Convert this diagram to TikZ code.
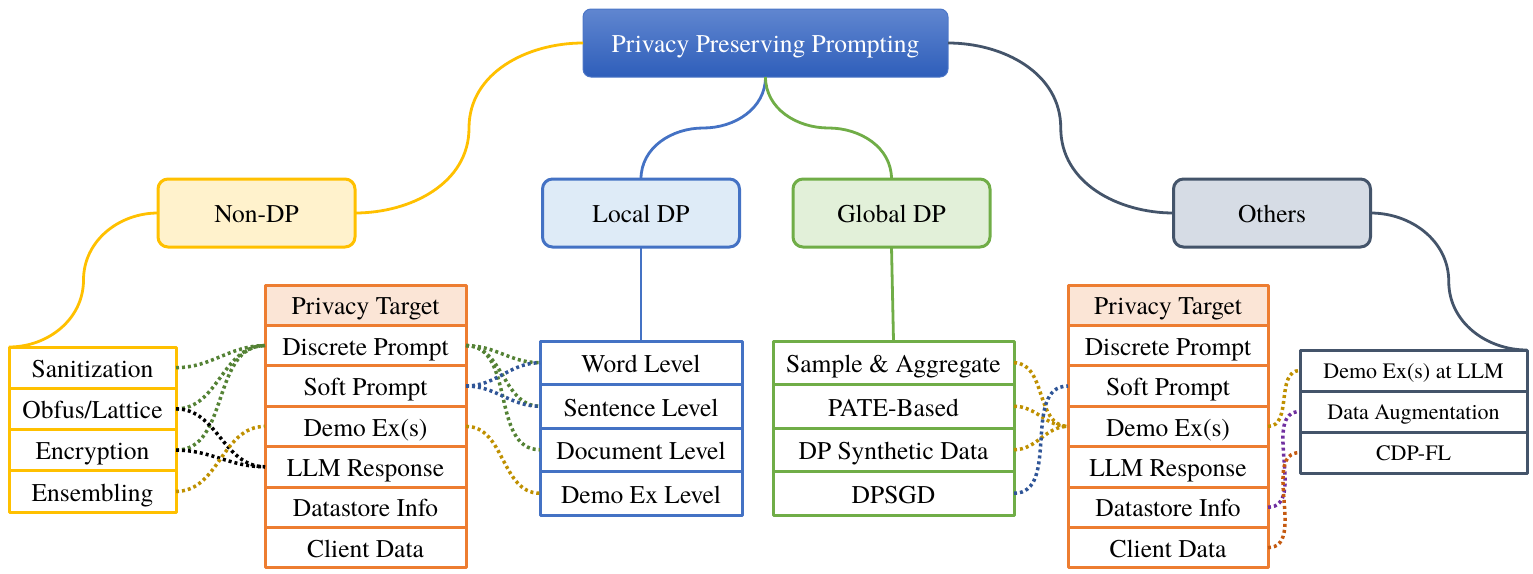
\documentclass[tikz,border=0pt]{standalone}
\usepackage{fontspec}
\setmainfont{texgyretermes-regular.otf}
\newfontfamily\ppserif{texgyretermes-regular.otf}
\usepackage{tikz}
\usetikzlibrary{positioning,calc}
\definecolor{ppRootTop}{RGB}{96,134,208}
\definecolor{ppRootBot}{RGB}{46,94,186}
\definecolor{ppYellow}{RGB}{255,192,0}
\definecolor{ppYellowL}{RGB}{255,242,204}
\definecolor{ppBlue}{RGB}{68,114,196}
\definecolor{ppBlueL}{RGB}{222,235,247}
\definecolor{ppGreen}{RGB}{112,173,71}
\definecolor{ppGreenL}{RGB}{226,240,217}
\definecolor{ppSlate}{RGB}{68,84,106}
\definecolor{ppSlateL}{RGB}{214,220,229}
\definecolor{ppOrange}{RGB}{237,125,49}
\definecolor{ppOrangeL}{RGB}{251,229,214}
\definecolor{ppDotGreen}{RGB}{84,130,53}
\definecolor{ppDotBlue}{RGB}{47,85,151}
\definecolor{ppDotGold}{RGB}{191,144,0}
\definecolor{ppDotPurple}{RGB}{112,48,160}
\definecolor{ppDotRust}{RGB}{197,90,17}
\tikzset{
    base/.style={font=\ppserif\fontsize{25.5}{30}\selectfont, align=center, inner sep=0pt, outer sep=0pt,
                 text height=19.5pt, text depth=0pt},
    root/.style={base, rectangle, rounded corners=8pt, top color=ppRootTop, bottom color=ppRootBot,
                 draw=ppRootTop!60!ppRootBot, line width=1pt, text=white,
                 minimum width=365pt, minimum height=68pt},
    category/.style={base, rectangle, rounded corners=10pt, line width=3pt,
                     minimum width=197pt, minimum height=68pt},
    item/.style={base, rectangle, fill=white, line width=3pt},
    nondpItem/.style={item, draw=ppYellow, minimum width=167pt, minimum height=41.25pt},
    targetItem/.style={item, draw=ppOrange, minimum width=201pt, minimum height=40.4pt},
    localItem/.style={item, draw=ppBlue, minimum width=202pt, minimum height=43.5pt},
    globalItem/.style={item, draw=ppGreen, minimum width=241pt, minimum height=43.5pt},
    otherItem/.style={item, draw=ppSlate, minimum width=227pt, minimum height=41pt,
                      font=\ppserif\fontsize{22}{26}\selectfont, text height=16.5pt},
    branch/.style={line width=2.8pt},
    link/.style={line width=3.5pt, dash pattern=on 3pt off 3pt}
}
\begin{document}
\begin{tikzpicture}[x=1pt, y=1pt, line join=round]
    \useasboundingbox (0,0) rectangle (1533,-573);

    % Root and categories
    \node[root] (root) at (765.5,-43) {Privacy Preserving Prompting};
    \node[category, draw=ppYellow, fill=ppYellowL] (nondp) at (256.5,-213) {Non-DP};
    \node[category, draw=ppBlue, fill=ppBlueL] (local) at (641,-213) {Local DP};
    \node[category, draw=ppGreen, fill=ppGreenL] (global) at (891.5,-213) {Global DP};
    \node[category, draw=ppSlate, fill=ppSlateL] (others) at (1272,-213) {Others};

    % Non-DP techniques
    \node[nondpItem, anchor=north] (sanit) at (92.5,-347) {Sanitization};
    \node[nondpItem, below=0pt of sanit] (obfus) {Obfus/Lattice};
    \node[nondpItem, below=0pt of obfus] (encrypt) {Encryption};
    \node[nondpItem, below=0pt of encrypt] (ensemble) {Ensembling};

    % Privacy targets (left)
    \node[targetItem, fill=ppOrangeL, anchor=north] (ltHead) at (365.5,-285) {Privacy Target};
    \node[targetItem, below=0pt of ltHead] (ltDiscrete) {Discrete Prompt};
    \node[targetItem, below=0pt of ltDiscrete] (ltSoft) {Soft Prompt};
    \node[targetItem, below=0pt of ltSoft] (ltDemo) {Demo Ex(s)};
    \node[targetItem, below=0pt of ltDemo] (ltLLM) {LLM Response};
    \node[targetItem, below=0pt of ltLLM] (ltStore) {Datastore Info};
    \node[targetItem, below=0pt of ltStore] (ltClient) {Client Data};

    % Local DP levels
    \node[localItem, anchor=north] (word) at (641,-341) {Word Level};
    \node[localItem, below=0pt of word] (sentence) {Sentence Level};
    \node[localItem, below=0pt of sentence] (document) {Document Level};
    \node[localItem, below=0pt of document] (demolevel) {Demo Ex Level};

    % Global DP methods
    \node[globalItem, anchor=north] (sampleagg) at (893.5,-341) {Sample \& Aggregate};
    \node[globalItem, below=0pt of sampleagg] (pate) {PATE-Based};
    \node[globalItem, below=0pt of pate] (synth) {DP Synthetic Data};
    \node[globalItem, below=0pt of synth] (dpsgd) {DPSGD};

    % Privacy targets (right)
    \node[targetItem, fill=ppOrangeL, minimum width=200pt, anchor=north] (rtHead) at (1168,-285) {Privacy Target};
    \node[targetItem, minimum width=200pt, below=0pt of rtHead] (rtDiscrete) {Discrete Prompt};
    \node[targetItem, minimum width=200pt, below=0pt of rtDiscrete] (rtSoft) {Soft Prompt};
    \node[targetItem, minimum width=200pt, below=0pt of rtSoft] (rtDemo) {Demo Ex(s)};
    \node[targetItem, minimum width=200pt, below=0pt of rtDemo] (rtLLM) {LLM Response};
    \node[targetItem, minimum width=200pt, below=0pt of rtLLM] (rtStore) {Datastore Info};
    \node[targetItem, minimum width=200pt, below=0pt of rtStore] (rtClient) {Client Data};

    % Other methods
    \node[otherItem, anchor=north] (demollm) at (1413.5,-350) {Demo Ex(s) at LLM};
    \node[otherItem, below=0pt of demollm] (augment) {Data Augmentation};
    \node[otherItem, below=0pt of augment] (cdpfl) {CDP-FL};

    % Tree branches
    \draw[branch, ppYellow] (root.west) to[out=180,in=90] ($(root.west)!0.5!(nondp.east)$) to[out=-90,in=0] (nondp.east);
    \draw[branch, ppYellow] (nondp.west) to[out=180,in=90] ($(nondp.west)!0.5!(sanit.north west)$) to[out=-90,in=0] (sanit.north west);
    \draw[branch, ppBlue] (root.south) to[out=-90,in=0] ($(root.south)!0.5!(local.north)$) to[out=180,in=90] (local.north);
    \draw[branch, ppGreen] (root.south) to[out=-90,in=180] ($(root.south)!0.5!(global.north)$) to[out=0,in=90] (global.north);
    \draw[branch, ppSlate] (root.east) to[out=0,in=90] ($(root.east)!0.5!(others.west)$) to[out=-90,in=180] (others.west);
    \draw[branch, ppSlate] (others.east) to[out=0,in=90] ($(others.east)!0.5!(demollm.north east)$) to[out=-90,in=180] (demollm.north east);
    \draw[branch, ppBlue] (local.south) -- (word.north);
    \draw[branch, ppGreen] (global.south) -- (sampleagg.north);

    % Dotted links, Non-DP to targets
    \draw[link, ppDotGreen] (sanit.east) to[out=0,in=180] (ltDiscrete.west);
    \draw[link, ppDotGreen] (obfus.east) to[out=0,in=180] (ltDiscrete.west);
    \draw[link, ppDotGreen] (encrypt.east) to[out=0,in=180] (ltDiscrete.west);
    \draw[link, black] (obfus.east) to[out=0,in=180] (ltLLM.west);
    \draw[link, black] (encrypt.east) to[out=0,in=180] (ltLLM.west);
    \draw[link, ppDotGold] (ensemble.east) to[out=0,in=180] (ltDemo.west);

    % Dotted links, targets to Local DP
    \draw[link, ppDotGreen] (ltDiscrete.east) to[out=0,in=180] (word.west);
    \draw[link, ppDotGreen] (ltDiscrete.east) to[out=0,in=180] (sentence.west);
    \draw[link, ppDotGreen] (ltDiscrete.east) to[out=0,in=180] (document.west);
    \draw[link, ppDotBlue] (ltSoft.east) to[out=0,in=180] (word.west);
    \draw[link, ppDotBlue] (ltSoft.east) to[out=0,in=180] (sentence.west);
    \draw[link, ppDotGold] (ltDemo.east) to[out=0,in=180] (demolevel.west);

    % Dotted links, Global DP to targets
    \draw[link, ppDotGold] (sampleagg.east) to[out=0,in=180] (rtDemo.west);
    \draw[link, ppDotGold] (pate.east) to[out=0,in=180] (rtDemo.west);
    \draw[link, ppDotGold] (synth.east) to[out=0,in=180] (rtDemo.west);
    \draw[link, ppDotBlue] (dpsgd.east) to[out=0,in=180] (rtSoft.west);

    % Dotted links, targets to others
    \draw[link, ppDotGold] (rtDemo.east) to[out=0,in=180] (demollm.west);
    \draw[link, ppDotPurple] (rtStore.east) to[out=0,in=180] (augment.west);
    \draw[link, ppDotRust] (rtClient.east) to[out=0,in=180] (cdpfl.west);
\end{tikzpicture}
\end{document}
